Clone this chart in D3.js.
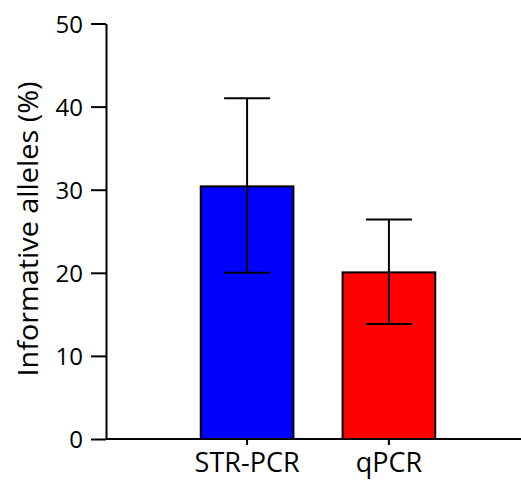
<!DOCTYPE html>
<html><head><meta charset="utf-8">
<script src="https://cdn.jsdelivr.net/npm/d3@7"></script>
<style>body{margin:0;background:#fff}svg{display:block}</style>
</head><body>
<script>
const categories = ["STR-PCR", "qPCR"];
const means = [30.4, 20.05];
const errLow = [20.0, 13.85];
const errHigh = [41.0, 26.4];
const colors = ["#0000FF", "#FF0000"];
const yTicks = [0, 10, 20, 30, 40, 50];

const W = 521, H = 481;
const svg = d3.select("body").append("svg").attr("width", W).attr("height", H);
const font = "'Open Sans', sans-serif";

const y = d3.scaleLinear().domain([0, 50]).range([439, 23.5]);
const x = d3.scaleBand().domain(categories).range([106, 530])
  .paddingInner(0.3465).paddingOuter(0.668);

// bars
svg.selectAll("rect.bar").data(categories).join("rect")
  .attr("x", d => x(d)).attr("width", x.bandwidth())
  .attr("y", (d, i) => y(means[i])).attr("height", (d, i) => y(0) - y(means[i]))
  .attr("fill", (d, i) => colors[i]).attr("stroke", "#000").attr("stroke-width", 2);

// error bars
const capW = 46;
categories.forEach((c, i) => {
  const cx = x(c) + x.bandwidth() / 2;
  const g = svg.append("g").attr("stroke", "#000").attr("stroke-width", 2);
  g.append("line").attr("x1", cx).attr("x2", cx).attr("y1", y(errHigh[i])).attr("y2", y(errLow[i]));
  g.append("line").attr("x1", cx - capW / 2).attr("x2", cx + capW / 2).attr("y1", y(errHigh[i])).attr("y2", y(errHigh[i]));
  g.append("line").attr("x1", cx - capW / 2).attr("x2", cx + capW / 2).attr("y1", y(errLow[i])).attr("y2", y(errLow[i]));
});

// y axis
const ya = svg.append("g").attr("transform", "translate(106,0)")
  .call(d3.axisLeft(y).tickValues(yTicks).tickSize(15).tickPadding(8).tickSizeOuter(0));
ya.select(".domain").attr("stroke-width", 2);
ya.selectAll(".tick line").attr("stroke-width", 2);
ya.selectAll(".tick text").attr("font-family", font).attr("font-size", 24).attr("fill", "#000")
  .attr("dy", "0.36em");

// x axis
const xa = svg.append("g").attr("transform", "translate(0,439)")
  .call(d3.axisBottom(x).tickSize(6).tickPadding(10).tickSizeOuter(0));
xa.select(".domain").attr("stroke-width", 2).attr("d", "M106,0H521");
xa.selectAll(".tick line").attr("stroke-width", 2);
xa.selectAll(".tick text").attr("font-family", font).attr("font-size", 27).attr("fill", "#000")
  .attr("dy", null).attr("y", 33);

// y title
svg.append("text").attr("transform", "translate(37.5,229) rotate(-90)")
  .attr("text-anchor", "middle").attr("font-family", font).attr("font-size", 27)
  .attr("textLength", 295).attr("lengthAdjust", "spacingAndGlyphs")
  .text("Informative alleles (%)");
</script>
</body></html>
